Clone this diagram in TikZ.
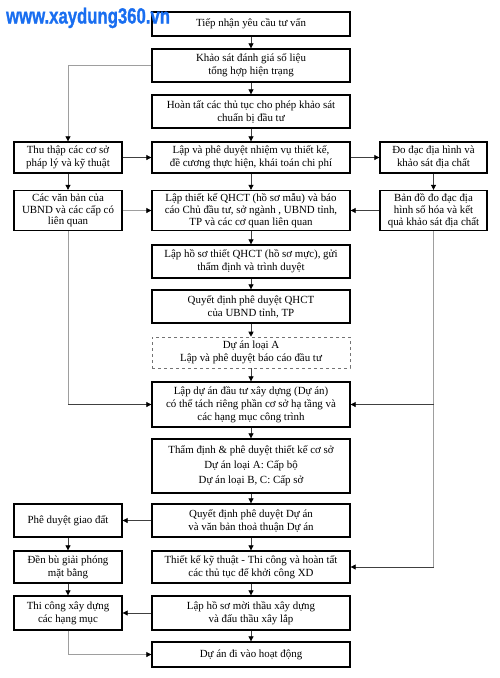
\documentclass[tikz,border=0pt]{standalone}
\usepackage{fontspec}
\setmainfont{Liberation Serif}
\newfontfamily\wmfont{Liberation Sans Bold}[FakeBold=1.2]
\usetikzlibrary{arrows.meta}
\definecolor{wm}{RGB}{25,110,240}
\begin{document}
\begin{tikzpicture}[x=1pt,y=-1pt,
  box/.style={draw=black,line width=1.3pt,align=center,inner sep=0pt,font=\fontsize{10.9}{13}\selectfont},
  tight/.style={font=\fontsize{10.9}{11.8}\selectfont},
  cbox/.style={box,minimum width=198pt},
  lbox/.style={box,minimum width=108pt},
  rbox/.style={box,minimum width=107pt},
  dline/.style={draw=black!75,line width=0.7pt},
  lline/.style={draw=black!38,line width=0.7pt},
  tip/.style={-{Triangle[length=5pt,width=5pt,color=black]}},
  arr/.style={dline,tip},
  larr/.style={lline,tip}]
\useasboundingbox (0,0) rectangle (500,678);
% central column
\node[cbox,minimum height=24pt] (b1) at (251,24) {Tiếp nhận yêu cầu tư vấn};
\node[cbox,minimum height=33pt] (b2) at (251,65.5) {Khảo sát đánh giá số liệu\\tổng hợp hiện trạng};
\node[cbox,minimum height=33pt] (b3) at (251,111.5) {Hoàn tất các thủ tục cho phép khảo sát\\chuẩn bị đầu tư};
\node[cbox,minimum height=31pt] (b4) at (251,157.5) {Lập và phê duyệt nhiệm vụ thiết kế,\\đề cương thực hiện, khái toán chi phí};
\node[cbox,tight,minimum height=40pt] (b5) at (251,210.5) {Lập thiết kế QHCT (hồ sơ mẫu) và báo\\cáo Chủ đầu tư, sở ngành , UBND tỉnh,\\TP và các cơ quan liên quan};
\node[cbox,minimum height=33pt] (b6) at (251,261.5) {Lập hồ sơ thiết QHCT (hồ sơ mực), gửi\\thẩm định và trình duyệt};
\node[cbox,minimum height=33pt] (b7) at (251,306.5) {Quyết định phê duyệt QHCT\\của UBND tỉnh, TP};
\node[cbox,minimum height=31pt,draw=black!55,line width=0.6pt,dashed] (b8) at (251,352.5) {Dự án loại A\\Lập và phê duyệt báo cáo đầu tư};
\node[cbox,minimum height=45pt] (b9) at (251,404.5) {Lập dự án đầu tư xây dựng (Dự án)\\có thể tách riêng phần cơ sở hạ tầng và\\các hạng mục công trình};
\node[cbox,minimum height=54pt,font=\fontsize{10.9}{15}\selectfont] (b10) at (251,466) {Thẩm định \& phê duyệt thiết kế cơ sở\\Dự án loại A: Cấp bộ\\Dự án loại B, C: Cấp sở};
\node[cbox,minimum height=33pt] (b11) at (251,520.5) {Quyết định phê duyệt Dự án\\và văn bản thoả thuận Dự án};
\node[cbox,minimum height=32pt] (b12) at (251,567) {Thiết kế kỹ thuật - Thi công và hoàn tất\\các thủ tục để khởi công XD};
\node[cbox,minimum height=34pt] (b13) at (251,613) {Lập hồ sơ mời thầu xây dựng\\và đấu thầu xây lắp};
\node[cbox,minimum height=25pt] (b14) at (251,654.5) {Dự án đi vào hoạt động};
% left column
\node[lbox,minimum height=31pt] (L4) at (68,157.5) {Thu thập các cơ sở\\pháp lý và kỹ thuật};
\node[lbox,tight,minimum height=40pt] (L5) at (68,210.5) {Các văn bản của\\UBND và các cấp có\\liên quan};
\node[lbox,minimum height=33pt] (L11) at (68,520.5) {Phê duyệt giao đất};
\node[lbox,minimum height=32pt] (L12) at (68,567) {Đền bù giải phóng\\mặt bằng};
\node[lbox,minimum height=34pt] (L13) at (68,613) {Thi công xây dựng\\các hạng mục};
% right column
\node[rbox,minimum height=31pt] (R4) at (433.5,157.5) {Đo đạc địa hình và\\khảo sát địa chất};
\node[rbox,tight,minimum height=40pt] (R5) at (433.5,210.5) {Bản đồ đo đạc địa\\hình số hóa và kết\\quả khảo sát địa chất};
% central arrows
\foreach \a/\b in {b1/b2,b2/b3,b3/b4,b4/b5,b5/b6,b6/b7,b7/b8,b8/b9,b9/b10,b10/b11,b11/b12,b12/b13,b13/b14}
  \draw[arr] (\a.south) -- (\b.north);
% side connectors
\draw[larr] (b2.west) -| (L4.north);
\draw[arr] (L4.east) -- (b4.west);
\draw[arr] (b4.east) -- (R4.west);
\draw[arr] (R4.south) -- (R5.north);
\draw[arr] (R5.west) -- (b5.east);
\draw[arr] (L4.south) -- (L5.north);
\draw[larr] (L5.east) -- (b5.west);
\coordinate (cl) at (68,404.5);
\coordinate (cr) at (433.5,404.5);
\coordinate (cr2) at (433.5,567);
\draw[lline] (L5.south) -- (cl);
\draw[arr] (cl) -- (b9.west);
\draw[lline] (R5.south) -- (cr2);
\draw[arr] (cr) -- (b9.east);
\draw[arr] (cr2) -- (b12.east);
\draw[arr] (b11.west) -- (L11.east);
\draw[arr] (L11.south) -- (L12.north);
\draw[arr] (L12.south) -- (L13.north);
\draw[arr] (b13.west) -- (L13.east);
\draw[larr] (L13.south) |- (b14.west);
% watermark
\node[anchor=base west,inner sep=0pt,text=wm,xscale=0.76,font=\wmfont\fontsize{22}{22}\selectfont] (wmk) at (6,23.5) {www.xaydung360.vn};
\end{tikzpicture}
\end{document}
